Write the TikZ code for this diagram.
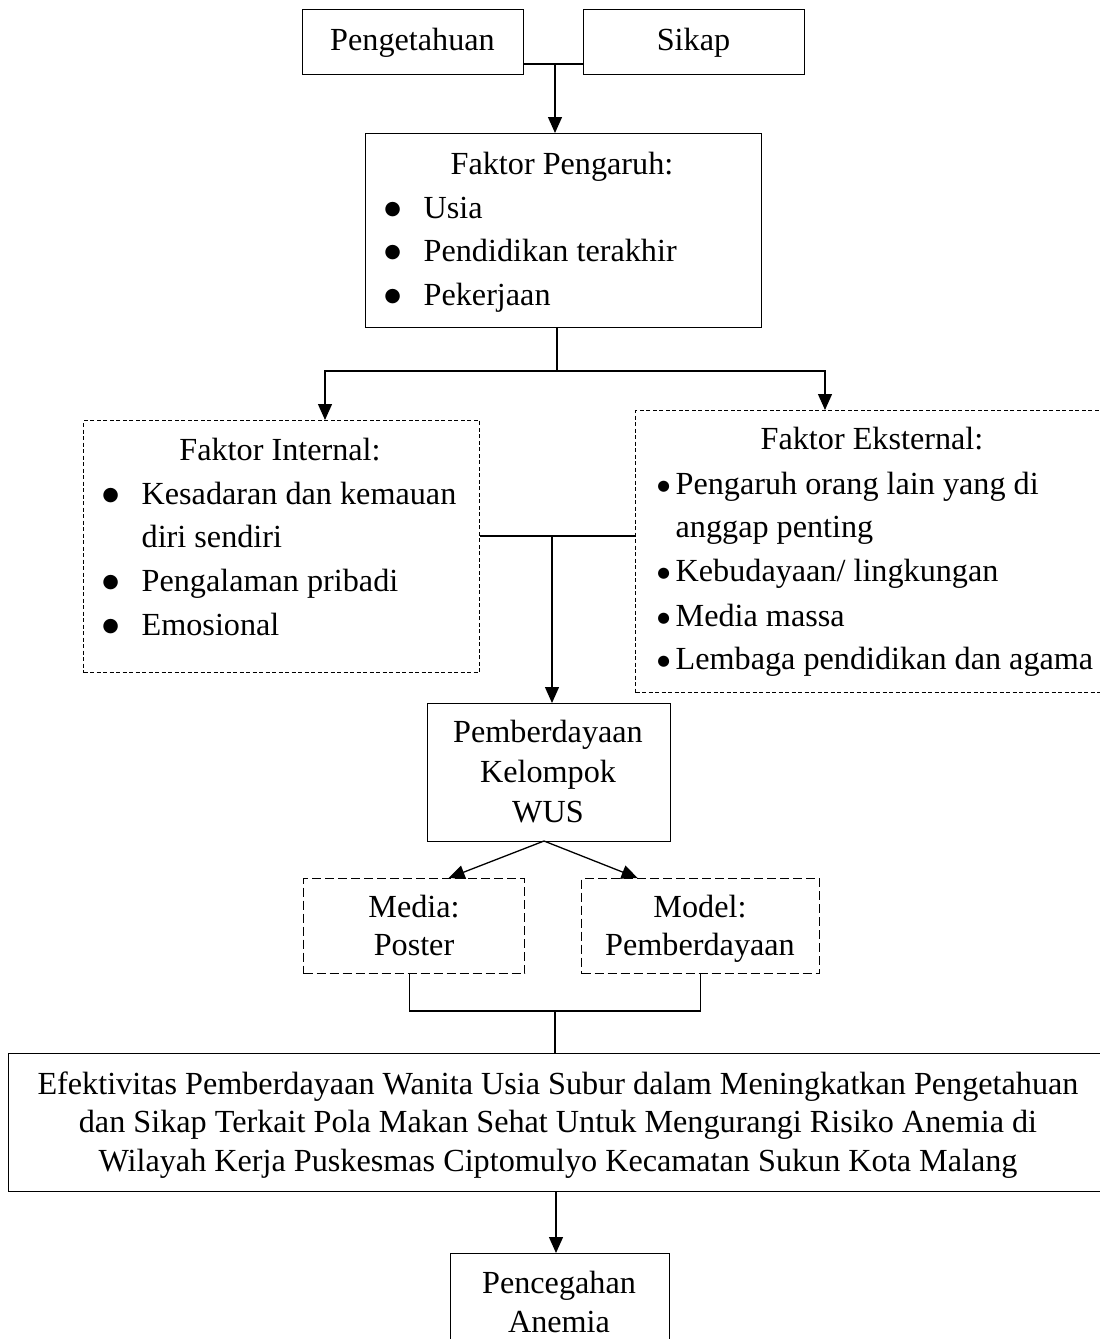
\documentclass[tikz,border=0pt]{standalone}
\usepackage{fontspec}
\setmainfont{Liberation Serif}
\newfontfamily\dvs{DejaVu Sans}
\usetikzlibrary{arrows.meta}
% bullet centred #1 to the left of the text start, font size #2, raised #3
\newcommand\bl[3]{\llap{\makebox[0pt]{\smash{\raisebox{#3}{\dvs\fontsize{#2}{#2}\selectfont ●}}}\hspace{#1}}}
\begin{document}
\begin{tikzpicture}[x=1pt,y=-1pt,line width=1.3pt,
  box/.style={draw,line width=1.3pt,inner sep=0pt,anchor=north west},
  dbox/.style={box,dash pattern=on 4pt off 2.5pt},
  lbox/.style={box,dash pattern=on 9pt off 4pt},
  txt/.style={font=\fontsize{32.2}{38}\selectfont,inner sep=0pt,anchor=base},
  ltxt/.style={txt,anchor=base west},
  arr/.style={-{Triangle[length=16pt,width=14pt]}}]
\fill[white] (0,0) rectangle (1100,1339);
\useasboundingbox (0,0) rectangle (1100,1339);
% boxes
\node[box,minimum width=221pt,minimum height=65pt] (peng) at (302,9) {};
\node[box,minimum width=221pt,minimum height=65pt] (sikap) at (583,9) {};
\node[box,minimum width=396pt,minimum height=194pt] (fp) at (365,133) {};
\node[dbox,minimum width=396pt,minimum height=252pt] (int) at (83,420) {};
\node[dbox,minimum width=474pt,minimum height=282pt] (ext) at (635,410) {};
\node[box,minimum width=243pt,minimum height=138pt] (pem) at (427,703) {};
\node[lbox,minimum width=221pt,minimum height=95pt] (media) at (303,878) {};
\node[lbox,minimum width=238pt,minimum height=95pt] (model) at (581,878) {};
\node[box,minimum width=1099pt,minimum height=138pt] (big) at (8,1053) {};
\node[box,minimum width=219pt,minimum height=100pt] (pc) at (450,1253) {};
% texts
\node[txt] (tpeng) at (412.5,50) {Pengetahuan};
\node[txt] (tsikap) at (693.5,50) {Sikap};
\node[txt] (fp0) at (562,174) {Faktor Pengaruh:};
\node[ltxt] (fp1) at (423,218) {\bl{31pt}{19}{4pt}Usia};
\node[ltxt] (fp2) at (423,261) {\bl{31pt}{19}{4pt}Pendidikan terakhir};
\node[ltxt] (fp3) at (423,305) {\bl{31pt}{19}{4pt}Pekerjaan};
\node[txt] (in0) at (280,460) {Faktor Internal:};
\node[ltxt] (in1) at (141,504) {\bl{31pt}{19}{4pt}Kesadaran dan kemauan};
\node[ltxt] (in2) at (141,547) {diri sendiri};
\node[ltxt] (in3) at (141,591) {\bl{31pt}{19}{4pt}Pengalaman pribadi};
\node[ltxt] (in4) at (141,635) {\bl{31pt}{19}{4pt}Emosional};
\node[txt] (ex0) at (872,449) {Faktor Eksternal:};
\node[ltxt] (ex1) at (675,494) {\bl{12pt}{14.5}{4pt}Pengaruh orang lain yang di};
\node[ltxt] (ex2) at (675,537) {anggap penting};
\node[ltxt] (ex3) at (675,581) {\bl{12pt}{14.5}{4pt}Kebudayaan/ lingkungan};
\node[ltxt] (ex4) at (675,626) {\bl{12pt}{14.5}{4pt}Media massa};
\node[ltxt] (ex5) at (675,669) {\bl{12pt}{14.5}{4pt}Lembaga pendidikan dan agama};
\node[txt] (pem1) at (548,742) {Pemberdayaan};
\node[txt] (pem2) at (548,782) {Kelompok};
\node[txt] (pem3) at (548,822) {WUS};
\node[txt] (med1) at (414,917) {Media:};
\node[txt] (med2) at (414,955) {Poster};
\node[txt] (mod1) at (700,917) {Model:};
\node[txt] (mod2) at (700,955) {Pemberdayaan};
\node[txt] (big1) at (558,1094) {Efektivitas Pemberdayaan Wanita Usia Subur dalam Meningkatkan Pengetahuan};
\node[txt] (big2) at (558,1132) {dan Sikap Terkait Pola Makan Sehat Untuk Mengurangi Risiko Anemia di};
\node[txt] (big3) at (558,1171) {Wilayah Kerja Puskesmas Ciptomulyo Kecamatan Sukun Kota Malang};
\node[txt] (pc1) at (559,1293) {Pencegahan};
\node[txt] (pc2) at (559,1332) {Anemia};
% connectors
\coordinate (j1) at (555,64);
\draw (peng.east |- j1) -- (sikap.west |- j1);
\draw[arr] (j1) -- (j1 |- fp.north);
\coordinate (j2) at (557,371);
\coordinate (jL) at (325,371);
\coordinate (jR) at (825,371);
\draw (j2 |- fp.south) -- (j2);
\draw[arr] (j2) -- (jL) -- (jL |- int.north);
\draw[arr] (j2) -- (jR) -- (jR |- ext.north);
\coordinate (t1) at (432,371);
\coordinate (t2) at (705,371);
\draw[line width=2.2pt] (t1) -- (t2);
\coordinate (j3) at (552,536);
\draw (int.east |- j3) -- (ext.west |- j3);
\draw[arr] (j3) -- (j3 |- pem.north);
\coordinate (pb) at (544,841);
\draw[arr] (pb) -- ([xshift=34.5pt]media.north);
\draw[arr] (pb) -- ([xshift=-63pt]model.north);
\coordinate (j4) at (555,1011);
\coordinate (ms) at ([xshift=-4.5pt]media.south);
\draw (ms) -- (ms |- j4) -- (model.south |- j4) -- (model.south);
\draw (j4) -- (j4 |- big.north);
\coordinate (j5) at (556,1191);
\draw[arr] (j5) -- (j5 |- pc.north);
\end{tikzpicture}
\end{document}
